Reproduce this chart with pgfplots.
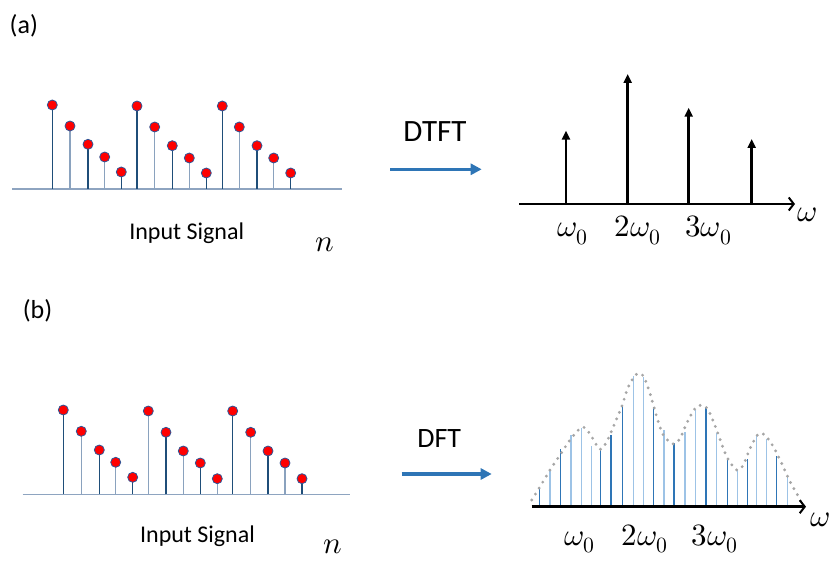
\documentclass[border=0pt]{standalone}
\usepackage{pgfplots}
\pgfplotsset{compat=1.18}
\usepackage{fontspec}
\usepackage{unicode-math}
\setmainfont{Carlito}
\setmathfont{Latin Modern Math}
\usetikzlibrary{arrows.meta}
\definecolor{stemdark}{HTML}{1F4E79}
\definecolor{stemlight}{HTML}{8AA2BE}
\definecolor{baseblue}{HTML}{8EA4C0}
\definecolor{dotedge}{HTML}{2F5597}
\definecolor{arrowblue}{HTML}{2E75B6}
\definecolor{dftdark}{HTML}{2E75B6}
\definecolor{dftlight}{HTML}{9DC3E6}
\definecolor{envgray}{HTML}{A6A6A6}
\pgfplotsset{
  panel/.style={scale only axis, hide axis, clip=false, ymin=0},
  insig/.style={ycomb, line width=1.2pt, mark=*, mark size=5pt,
    mark options={fill=red, draw=dotedge, line width=0.8pt}},
}
\tikzset{mlab/.style={anchor=base, font=\fontsize{31}{34}\selectfont}}
\begin{document}
\begin{tikzpicture}
\path[use as bounding box] (0pt,0pt) rectangle (832pt,560pt);

% ---------- (a) input signal ----------
\begin{axis}[panel, xmin=0, xmax=360, ymax=100, width=360pt, height=100pt,
  at={(0pt,371pt)}, anchor=south west]
\addplot[baseblue, line width=1.5pt, no marks] coordinates {(12,0) (342,0)};
\addplot[insig, stemdark] coordinates {(52.3,84) (88,44.7) (121.3,17) (137,83) (172.3,43.3) (206.3,16) (222.3,83) (257,43.3) (290.7,16)};
\addplot[insig, stemlight] coordinates {(70,63) (104.7,32) (154.7,62) (189.3,31) (239.3,62) (273.7,31)};
\end{axis}

% ---------- (a) DTFT ----------
\begin{axis}[panel, xmin=500, xmax=832, ymax=140, width=332pt, height=140pt,
  at={(500pt,356pt)}, anchor=south west]
\addplot[black, line width=2.5pt, -{Straight Barb[length=5pt,width=13pt,line width=2pt]}] coordinates {(519.3,0) (795,0)};
\addplot[black, line width=2.6pt, -{Triangle[length=9pt,width=8pt]},
  quiver={u=0, v=\thisrow{h}}] table[x=x, y=y, row sep=\\] {
x y h \\
566 0 73.3 \\
627.7 0 130 \\
688.7 0 96.3 \\
751.7 0 65 \\
};
\node[mlab] at (axis cs:572.5,-32.7) {$\omega_0$};
\node[mlab] at (axis cs:638,-32.7) {$2\omega_0$};
\node[mlab] at (axis cs:708.3,-32.7) {$3\omega_0$};
\node[mlab] at (axis cs:807.5,-17.7) {$\omega$};
\end{axis}

% ---------- (b) input signal ----------
\begin{axis}[panel, xmin=0, xmax=360, ymax=100, width=360pt, height=100pt,
  at={(0pt,65.7pt)}, anchor=south west]
\addplot[baseblue, line width=1.5pt, no marks] coordinates {(22.7,0) (350,0)};
\addplot[insig, stemdark] coordinates {(63.3,84.3) (99.3,44.3) (132.7,17) (166,62) (200.3,31.3) (232.7,83.3) (268,43.3) (302,15.6)};
\addplot[insig, stemlight] coordinates {(81.3,63) (115.7,32) (148.3,83.3) (183.3,43.3) (217.3,15.6) (250.7,62) (285,31.3)};
\end{axis}

% ---------- (b) DFT ----------
\begin{axis}[panel, xmin=500, xmax=832, ymax=140, width=332pt, height=140pt,
  at={(500pt,53.3pt)}, anchor=south west]
\addplot[dftdark, line width=1.3pt, ycomb, no marks] coordinates {
(539.3,19) (560.7,57.3) (600.7,56.7) (611,71.7) (622.3,101) (653.3,100) (674,63.3) (706,98.3) (727.7,46.7) (747.3,47.7) (776.7,50.7)};
\addplot[dftlight, line width=1.3pt, ycomb, no marks] coordinates {
(550,37.7) (571,71.7) (581.3,79) (591.3,60.7) (633.3,130.7) (643.3,130) (664,76.7) (685,75) (695.7,96.7) (716.7,74) (737.3,36.7) (756.7,70.7) (766.7,67.3) (787.3,31.7)};
\addplot[envgray, smooth, line width=3.2pt, line cap=round, dash pattern=on 0pt off 7pt, no marks] coordinates {
(531.7,6.7) (540,20) (550,36.7) (560,51.7) (570,66.7) (580,78.3) (585,79) (591.7,70) (600,57.3) (606.7,65) (613.3,80) (621.7,100) (628.3,120) (636.7,132.7) (643.3,130.7) (650,113.3) (656.7,90) (663.3,71.7) (673.3,62.7) (680,68.3) (686.7,83.3) (695,98.3) (701.7,101.7) (708.3,96.7) (716.7,76.7) (726.7,50) (736.7,36.7) (743.3,41.7) (750,58.3) (758.3,72.7) (765,71.7) (773.3,60) (781.7,43.3) (790,25) (796.7,13.3) (803.3,0)};
\addplot[black, line width=2.5pt, -{Straight Barb[length=5pt,width=13pt,line width=2pt]}] coordinates {(531.7,0) (806,0)};
\node[mlab] at (axis cs:580,-38.3) {$\omega_0$};
\node[mlab] at (axis cs:645,-38.3) {$2\omega_0$};
\node[mlab] at (axis cs:715,-38.3) {$3\omega_0$};
\node[mlab] at (axis cs:820,-20) {$\omega$};
\end{axis}

% ---------- texts and arrows ----------
\node[font=\fontsize{26}{30}\selectfont] at (23.8pt,534pt) {(a)};
\node[font=\fontsize{26}{30}\selectfont] at (37.5pt,249pt) {(b)};
\node[anchor=base, font=\fontsize{24}{28}\selectfont] at (186.7pt,320pt) {Input Signal};
\node[anchor=base, font=\fontsize{24}{28}\selectfont] at (197.5pt,17.7pt) {Input Signal};
\node[mlab] at (325pt,308pt) {$n$};
\node[mlab] at (333pt,7pt) {$n$};
\node[anchor=base, font=\fontsize{31}{34}\selectfont] at (435pt,418.3pt) {DTFT};
\node[anchor=base, font=\fontsize{28}{32}\selectfont] at (439.2pt,112.7pt) {DFT};
\draw[arrowblue, line width=3.5pt, -{Triangle[length=11pt,width=11pt]}] (390pt,390.7pt) -- (481.7pt,390.7pt);
\draw[arrowblue, line width=3.5pt, -{Triangle[length=11pt,width=11pt]}] (401.7pt,86pt) -- (491.7pt,86pt);
\end{tikzpicture}
\end{document}
